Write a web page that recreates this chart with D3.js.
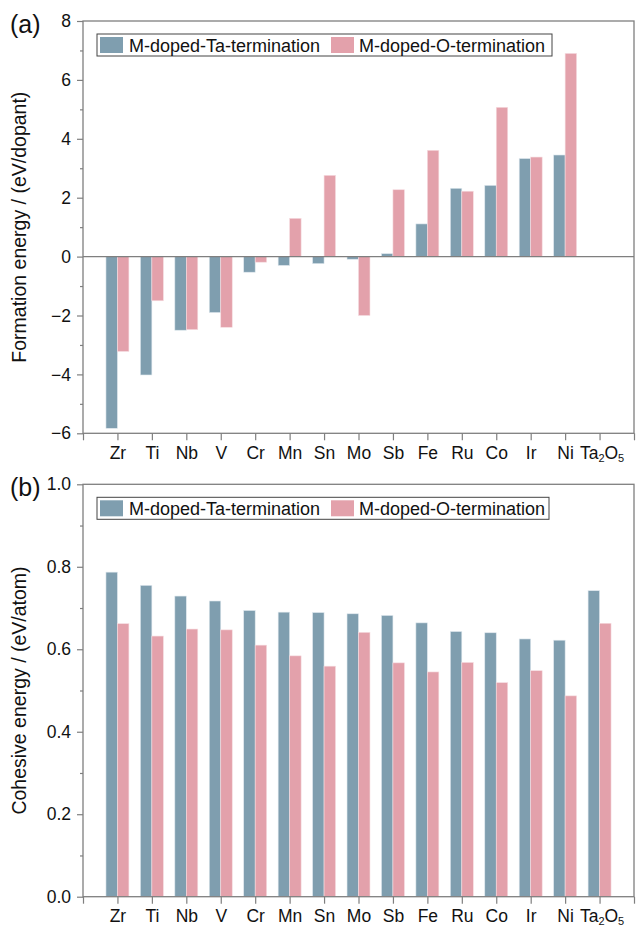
<!doctype html>
<html>
<head>
<meta charset="utf-8">
<style>
  body { margin: 0; background: #fff; }
  svg { font-family: "Liberation Sans", Arial, sans-serif; }
</style>
<script src="https://d3js.org/d3.v7.min.js"></script>
</head>
<body>
<svg id="chart" width="636" height="928"></svg>
<script>
// categories along the x axis (1..15), Ta2O5 gets subscripts when drawn
var categories = ["Zr", "Ti", "Nb", "V", "Cr", "Mn", "Sn", "Mo", "Sb", "Fe", "Ru", "Co", "Ir", "Ni", "Ta2O5"];
var seriesNames = ["M-doped-Ta-termination", "M-doped-O-termination"];

// (a) formation energy, eV/dopant
var formationTa = [-5.83, -4.02, -2.50, -1.90, -0.53, -0.30, -0.24, -0.09, 0.10, 1.11, 2.32, 2.42, 3.33, 3.45, null];
var formationO  = [-3.22, -1.50, -2.48, -2.40, -0.19, 1.30, 2.76, -2.00, 2.27, 3.61, 2.22, 5.07, 3.38, 6.90, null];
var formationTicks = [-6, -4, -2, 0, 2, 4, 6, 8];

// (b) cohesive energy, eV/atom
var cohesiveTa = [0.787, 0.755, 0.729, 0.717, 0.694, 0.690, 0.689, 0.686, 0.682, 0.664, 0.643, 0.640, 0.625, 0.622, 0.742];
var cohesiveO  = [0.662, 0.632, 0.649, 0.647, 0.610, 0.584, 0.559, 0.641, 0.567, 0.545, 0.568, 0.519, 0.548, 0.487, 0.663];
var cohesiveTicks = [0.0, 0.2, 0.4, 0.6, 0.8, 1.0];

var blue = "#7f9eaf", pink = "#e3a1ab", axisGray = "#7f7f7f";
var svg = d3.select("#chart");
var left = 83, right = 634;

function drawPanel(p) {
    var x = d3.scaleLinear().domain([0, categories.length + 1]).range([left, right]);
    var y = d3.scaleLinear().domain(p.domain).range([p.bottom, p.top]);
    var bw = (x(1) - x(0)) / 3;
    var g = svg.append("g");

    // bars
    var rows = categories.map(function(c, i) { return {i: i + 1, a: p.ta[i], b: p.o[i]}; });
    g.selectAll(".ta").data(rows.filter(function(d) { return d.a != null; }))
      .enter().append("rect")
      .attr("x", function(d) { return x(d.i) - bw; })
      .attr("y", function(d) { return y(Math.max(0, d.a)); })
      .attr("width", bw)
      .attr("height", function(d) { return Math.abs(y(d.a) - y(0)); })
      .attr("fill", blue).attr("stroke", "#dfe8ee").attr("stroke-width", 0.6);
    g.selectAll(".o").data(rows.filter(function(d) { return d.b != null; }))
      .enter().append("rect")
      .attr("x", function(d) { return x(d.i); })
      .attr("y", function(d) { return y(Math.max(0, d.b)); })
      .attr("width", bw)
      .attr("height", function(d) { return Math.abs(y(d.b) - y(0)); })
      .attr("fill", pink).attr("stroke", "#f6dde1").attr("stroke-width", 0.6);

    // zero line
    if (p.domain[0] < 0) {
        g.append("line").attr("x1", left).attr("x2", right)
         .attr("y1", y(0)).attr("y2", y(0))
         .attr("stroke", axisGray).attr("stroke-width", 1.2);
    }

    // frame
    g.append("rect").attr("x", left).attr("y", p.top)
     .attr("width", right - left).attr("height", p.bottom - p.top)
     .attr("fill", "none").attr("stroke", axisGray).attr("stroke-width", 1.3);

    // y axis: major + minor ticks
    var step = p.ticks[1] - p.ticks[0];
    var minors = p.ticks.slice(0, -1).map(function(t) { return t + step / 2; });
    g.append("g").attr("transform", "translate(" + left + ",0)")
     .call(d3.axisLeft(y).tickValues(minors).tickSize(3).tickFormat(""));
    g.append("g").attr("transform", "translate(" + left + ",0)")
     .call(d3.axisLeft(y).tickValues(p.ticks).tickSize(6).tickPadding(6).tickFormat(p.fmt));

    // x axis
    var xg = g.append("g").attr("transform", "translate(0," + p.bottom + ")")
     .call(d3.axisBottom(x).tickValues(d3.range(0, categories.length + 2)).tickSize(7).tickPadding(6)
       .tickFormat(function(d) { return categories[d - 1] || ""; }));
    xg.selectAll("text").filter(function(d) { return categories[d - 1] === "Ta2O5"; })
      .text(null)
      .attr("dx", "2")
      .call(function(t) {
          t.append("tspan").text("Ta");
          t.append("tspan").attr("font-size", "11px").attr("dy", "3").text("2");
          t.append("tspan").attr("dy", "-3").text("O");
          t.append("tspan").attr("font-size", "11px").attr("dy", "3").text("5");
      });

    g.selectAll(".domain").remove();
    g.selectAll(".tick line").attr("stroke", axisGray).attr("stroke-width", 1.2);
    g.selectAll(".tick text").attr("font-size", "17.5px").attr("fill", "#111")
     .attr("font-family", "Liberation Sans, Arial, sans-serif");

    // axis title
    g.append("text")
     .attr("transform", "translate(26," + ((p.top + p.bottom) / 2) + ") rotate(-90)")
     .attr("text-anchor", "middle").attr("font-size", "19.5px").attr("fill", "#111")
     .text(p.title);

    // panel letter
    g.append("text").attr("x", 10).attr("y", p.top + 12)
     .attr("font-size", "25px").attr("fill", "#111").text(p.letter);

    // legend
    var ly = p.top + 13;
    var lg = g.append("g");
    lg.append("rect").attr("x", 97).attr("y", ly).attr("width", p.legendW).attr("height", 22)
      .attr("fill", "#fff").attr("stroke", "#444").attr("stroke-width", 1);
    [[100, blue, 129], [331, pink, 359]].forEach(function(s, k) {
        lg.append("rect").attr("x", s[0]).attr("y", ly + 3).attr("width", 23).attr("height", 16)
          .attr("fill", s[1]);
        lg.append("text").attr("x", s[2]).attr("y", ly + 17.5)
          .attr("font-size", "18px").attr("fill", "#111").text(seriesNames[k]);
    });
}

drawPanel({
    top: 21, bottom: 433.3, domain: [-6, 8], ticks: formationTicks,
    ta: formationTa, o: formationO, fmt: d3.format("d"),
    title: "Formation energy / (eV/dopant)", letter: "(a)", legendW: 455
});

drawPanel({
    top: 484.3, bottom: 896.7, domain: [0, 1], ticks: cohesiveTicks,
    ta: cohesiveTa, o: cohesiveO, fmt: d3.format(".1f"),
    title: "Cohesive energy / (eV/atom)", letter: "(b)", legendW: 452
});
</script>
</body>
</html>
